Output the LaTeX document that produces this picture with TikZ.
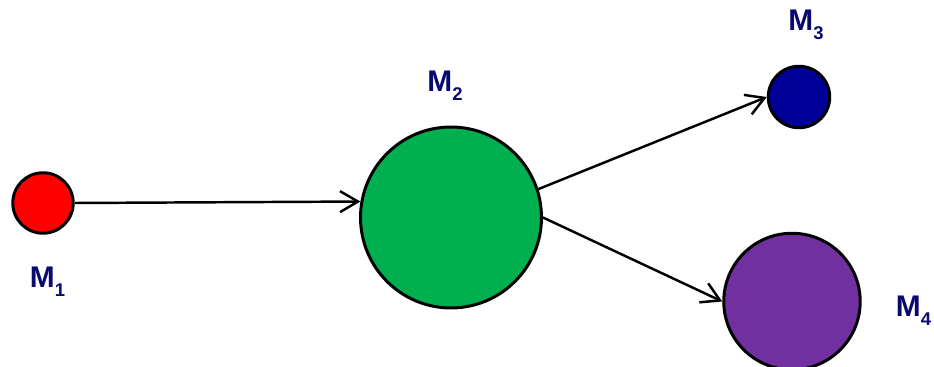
\documentclass[tikz,border=0pt]{standalone}
\usepackage{fontspec}
\setmainfont{Liberation Sans}
\usepackage{tikz}
\usetikzlibrary{arrows.meta,positioning}
\usepackage{xcolor}
\definecolor{massred}{RGB}{255,0,0}
\definecolor{massgreen}{RGB}{0,176,80}
\definecolor{massblue}{RGB}{0,0,153}
\definecolor{masspurple}{RGB}{112,48,160}
\definecolor{labelnavy}{RGB}{10,10,110}
\newcommand{\mlab}[1]{M\raisebox{-5pt}{\fontsize{10.5}{11}\selectfont #1}}

\begin{document}
\begin{tikzpicture}[
        x=0.02cm, y=-0.02cm,
        node distance=1.5cm,
        mass/.style={circle, draw=black, line width=1.7pt, inner sep=0pt},
        masslabel/.style={text=labelnavy, font=\fontsize{17}{19}\selectfont\bfseries, inner sep=0pt},
        line/.style={draw, -{Straight Barb[length=3.6mm, width=4.2mm, line width=1.4pt]}, line width=1.4pt}
    ]
    \useasboundingbox (0,0) rectangle (934,367);
    \node [mass, fill=massred, minimum size=1.21cm] (m1) at (43,203) {};
    \node [mass, fill=massgreen, minimum size=3.62cm] (m2) at (451,217.5) {};
    \node [mass, fill=massblue, minimum size=1.23cm] (m3) at (799,97) {};
    \node [mass, fill=masspurple, minimum size=2.73cm] (m4) at (792,301.5) {};
    \node [masslabel, below of=m1, node distance=1.57cm, xshift=0.09cm] (l1) {\mlab{1}};
    \node [masslabel, above of=m2, node distance=2.64cm, xshift=-0.12cm] (l2) {\mlab{2}};
    \node [masslabel, above of=m3, node distance=1.45cm, xshift=0.14cm] (l3) {\mlab{3}};
    \node [masslabel, right of=m4, node distance=2.43cm, yshift=-0.19cm] (l4) {\mlab{4}};
    \path [line] (m1.east) -- (m2.170);
    \path [line] (m2.18) -- (m3.west);
    \path [line] (m2.east) -- (m4.west);
\end{tikzpicture}
\end{document}
